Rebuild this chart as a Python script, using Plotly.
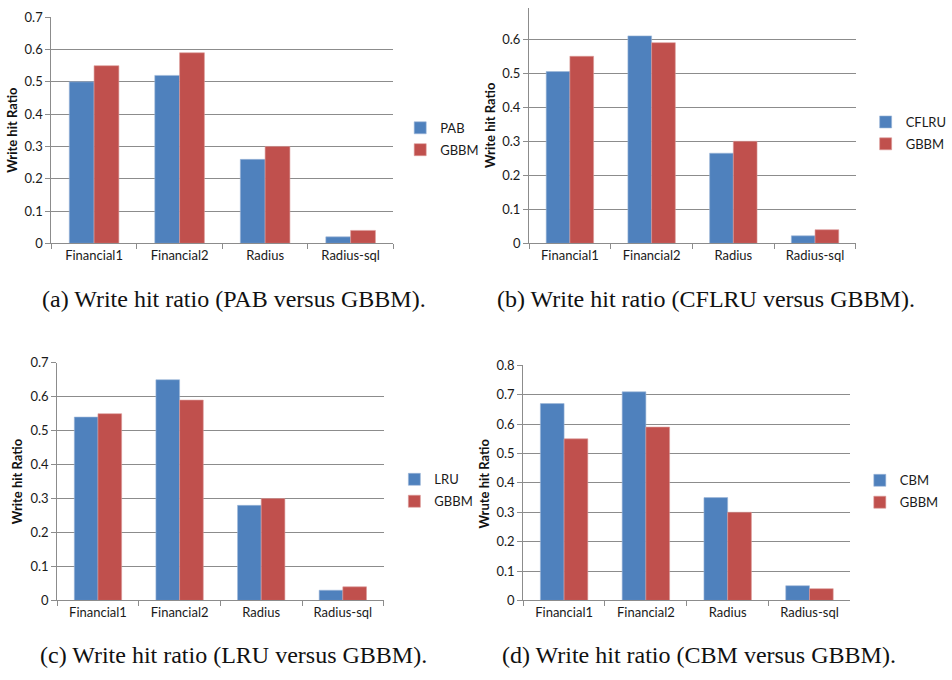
import plotly.graph_objects as go

W, H = 952, 680

categories = ["Financial1", "Financial2", "Radius", "Radius-sql"]

pab = [0.50, 0.52, 0.26, 0.02]
cflru = [0.505, 0.61, 0.265, 0.022]
lru = [0.54, 0.65, 0.28, 0.03]
cbm = [0.67, 0.71, 0.35, 0.05]
gbbm = [0.55, 0.59, 0.30, 0.04]

names = ["PAB", "CFLRU", "LRU", "CBM"]
series = [pab, cflru, lru, cbm]
captions = [
    "(a) Write hit ratio (PAB versus GBBM).",
    "(b) Write hit ratio (CFLRU versus GBBM).",
    "(c) Write hit ratio (LRU versus GBBM).",
    "(d) Write hit ratio (CBM versus GBBM).",
]
ytitles = ["Write hit Ratio", "Write hit Ratio", "Write hit Ratio", "Wrute hit Ratio"]
yticks_a = [0, 0.1, 0.2, 0.3, 0.4, 0.5, 0.6, 0.7]
yticks_d = [0, 0.1, 0.2, 0.3, 0.4, 0.5, 0.6, 0.7, 0.8]

BLUE = "#4F81BD"
RED = "#C0504D"
GRID = "#8C8C8C"
SANS = "Lato, Open Sans, sans-serif"

# pixel layout per panel: (left, right, top, bottom), y range, ticks
panels = [
    dict(l=52.7, r=404, t=9.5, b=241, rng=[0, 0.7], ticks=yticks_a,
         leg=(411, 134), cap=(240, 298), yt=(12, 125)),
    dict(l=543.3, r=879, t=0, b=241, rng=[0, 0.692], ticks=yticks_a,
         leg=(889, 128), cap=(725, 298), yt=(503, 120)),
    dict(l=58.7, r=394, t=363.3, b=606.7, rng=[0, 0.7], ticks=yticks_a,
         leg=(405, 494), cap=(240, 663), yt=(17, 485)),
    dict(l=537.3, r=873.3, t=366, b=606.7, rng=[0, 0.8], ticks=yticks_d,
         leg=(883, 495), cap=(718, 663), yt=(497, 487)),
]

fig = go.Figure()
annotations = []
layout = dict(
    width=W, height=H, margin=dict(l=0, r=0, t=0, b=0),
    paper_bgcolor="white", plot_bgcolor="white",
    barmode="group", bargap=0.42, bargroupgap=0,
    font=dict(family=SANS, size=13, color="#1a1a1a"),
    showlegend=True,
)

for i, p in enumerate(panels):
    k = "" if i == 0 else str(i + 1)
    xa, ya = "x" + k, "y" + k
    lg = "legend" + k
    fig.add_trace(go.Bar(x=categories, y=series[i], name=names[i],
                         marker=dict(color=BLUE, line=dict(color="#9db7d8", width=0.6)),
                         xaxis=xa, yaxis=ya, legend=lg, legendgroup=f"a{i}"))
    fig.add_trace(go.Bar(x=categories, y=gbbm, name="GBBM",
                         marker=dict(color=RED, line=dict(color="#dc9a98", width=0.6)),
                         xaxis=xa, yaxis=ya, legend=lg, legendgroup=f"b{i}"))
    layout["xaxis" + k] = dict(
        domain=[p["l"] / W, p["r"] / W], anchor=ya,
        showline=True, linecolor=GRID, linewidth=1,
        ticks="outside", tickson="boundaries", ticklen=5, tickcolor=GRID,
        showgrid=False, tickfont=dict(size=13), fixedrange=True,
    )
    layout["yaxis" + k] = dict(
        domain=[1 - p["b"] / H, 1 - p["t"] / H], anchor=xa,
        range=p["rng"], tickvals=p["ticks"],
        ticktext=["0" if v == 0 else f"{v:.1f}" for v in p["ticks"]],
        showline=True, linecolor=GRID, linewidth=1,
        ticks="outside", ticklen=5, tickcolor=GRID,
        showgrid=True, gridcolor=GRID, gridwidth=1, zeroline=False,
        tickfont=dict(size=13), fixedrange=True,
    )
    layout[lg] = dict(
        x=p["leg"][0] / W, y=1 - p["leg"][1] / H, xanchor="left", yanchor="middle",
        xref="paper", yref="paper", bgcolor="rgba(0,0,0,0)",
        font=dict(size=13), tracegroupgap=2, itemwidth=30,
    )
    annotations.append(dict(
        x=p["cap"][0] / W, y=1 - p["cap"][1] / H, xref="paper", yref="paper",
        text=captions[i], showarrow=False, xanchor="center", yanchor="middle",
        font=dict(family="Liberation Serif, DejaVu Serif, serif", size=24, color="#111"),
    ))
    annotations.append(dict(
        x=p["yt"][0] / W, y=1 - p["yt"][1] / H, xref="paper", yref="paper",
        text="<b>" + ytitles[i] + "</b>", showarrow=False, textangle=-90,
        xanchor="center", yanchor="middle",
        font=dict(family=SANS, size=13, color="#111"),
    ))

layout["annotations"] = annotations
fig.update_layout(**layout)
fig.write_html("out.html")
